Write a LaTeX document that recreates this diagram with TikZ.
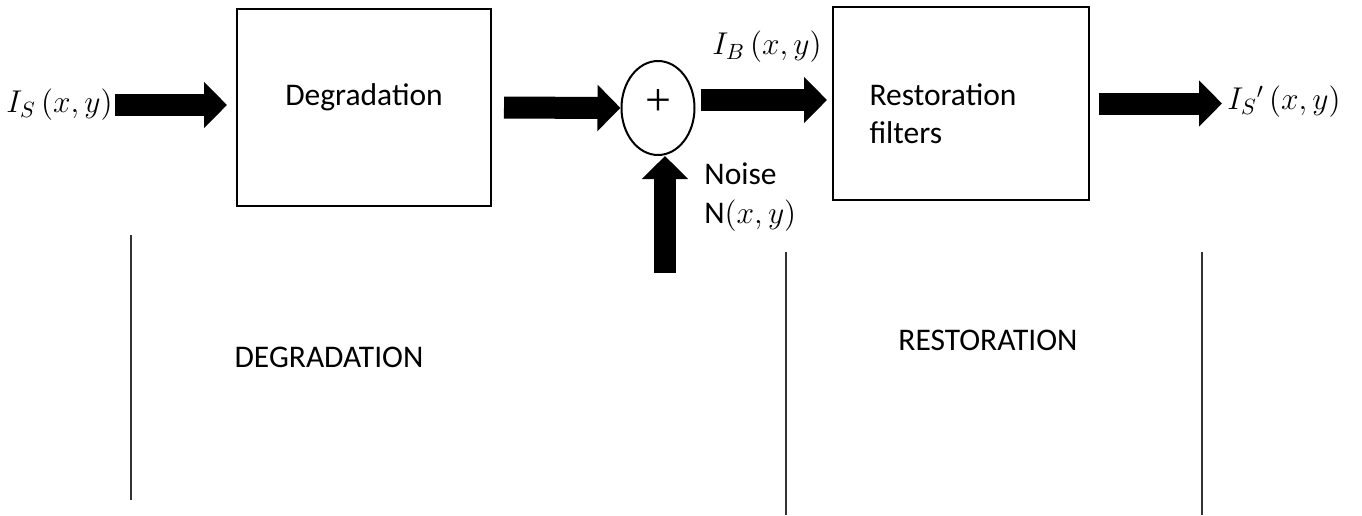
\RequirePackage{fix-cm}
\documentclass[tikz,border=0pt]{standalone}
\usepackage{fontspec}
\setmainfont{Carlito}
\newfontfamily\plusfont{Liberation Serif}
\usepackage{tikz}
\usetikzlibrary{arrows.meta,shapes.geometric,positioning}

\begin{document}
\begin{tikzpicture}
    [   x = 0.5pt
    ,   y = -0.5pt
    ,   block/.style=
        {   draw
        ,   line width = 1pt
        ,   rectangle
        ,   inner sep = 0pt
        }
    ,   summer/.style=
        {   draw
        ,   line width = 1pt
        ,   ellipse
        ,   inner sep = 0pt
        ,   minimum width = 36.5pt
        ,   minimum height = 47pt
        ,   font = \plusfont\fontsize{23pt}{23pt}\selectfont
        }
    ,   signal/.style=
        {   inner sep = 0pt
        }
    ,   flow/.style=
        {   line width = 11pt
        ,   -{Triangle[length=11.5pt,width=22.5pt]}
        }
    ,   divider/.style=
        {   line width = 1pt
        ,   black!80
        }
    ,   node font = \fontsize{15.75pt}{19.2pt}\selectfont
    ]
    \useasboundingbox (0,0) rectangle (1362,515);

    % blocks
    \node[block, minimum width=127pt, minimum height=98.5pt,
          label={[yshift=5pt]center:Degradation}] (deg) at (364,107.5) {};
    \node[summer] (sum) at (658,108) {\raisebox{5pt}{+}};
    \node[block, minimum width=128pt, minimum height=96.5pt,
          label={[xshift=-9pt,yshift=-5pt,align=left]center:Restoration\\filters}]
        (res) at (961,103.5) {};

    % signals
    \node[signal, anchor=east] (in) at (113,105) {$I_S\,(x,y)$};
    \node[signal] (ib) at (767,47) {$I_B\,(x,y)$};
    \node[signal, anchor=west] (out) at (1227,102) {$I_S{}'\,(x,y)$};
    \node[signal, anchor=west, align=left] (noise) at (704,197)
        {Noise\\N$(x,y)$};
    \coordinate (nz) at (665,273);

    % block arrows
    \draw[flow, shorten <=1pt, shorten >=4.5pt] (in.east) -- (in.east -| deg.west);
    \draw[flow, shorten <=6pt] (deg.east) -- (sum.west);
    \draw[flow, shorten <=2.5pt, shorten >=2.5pt]
        ([yshift=4pt]sum.east) -- ([yshift=4pt]sum.east -| res.west);
    \draw[flow, shorten <=4.5pt, shorten >=2.5pt] (res.east) -- (res.east -| out.west);
    \draw[flow] (nz) -- (nz |- sum.south);

    % stage dividers
    \draw[divider] (131,235) -- (131,500);
    \draw[divider] (786,252) -- (786,515);
    \draw[divider] (1202,252) -- (1202,515);
    \node (stdeg) at (329,357) {DEGRADATION};
    \node (stres) at (988,340) {RESTORATION};
\end{tikzpicture}
\end{document}
